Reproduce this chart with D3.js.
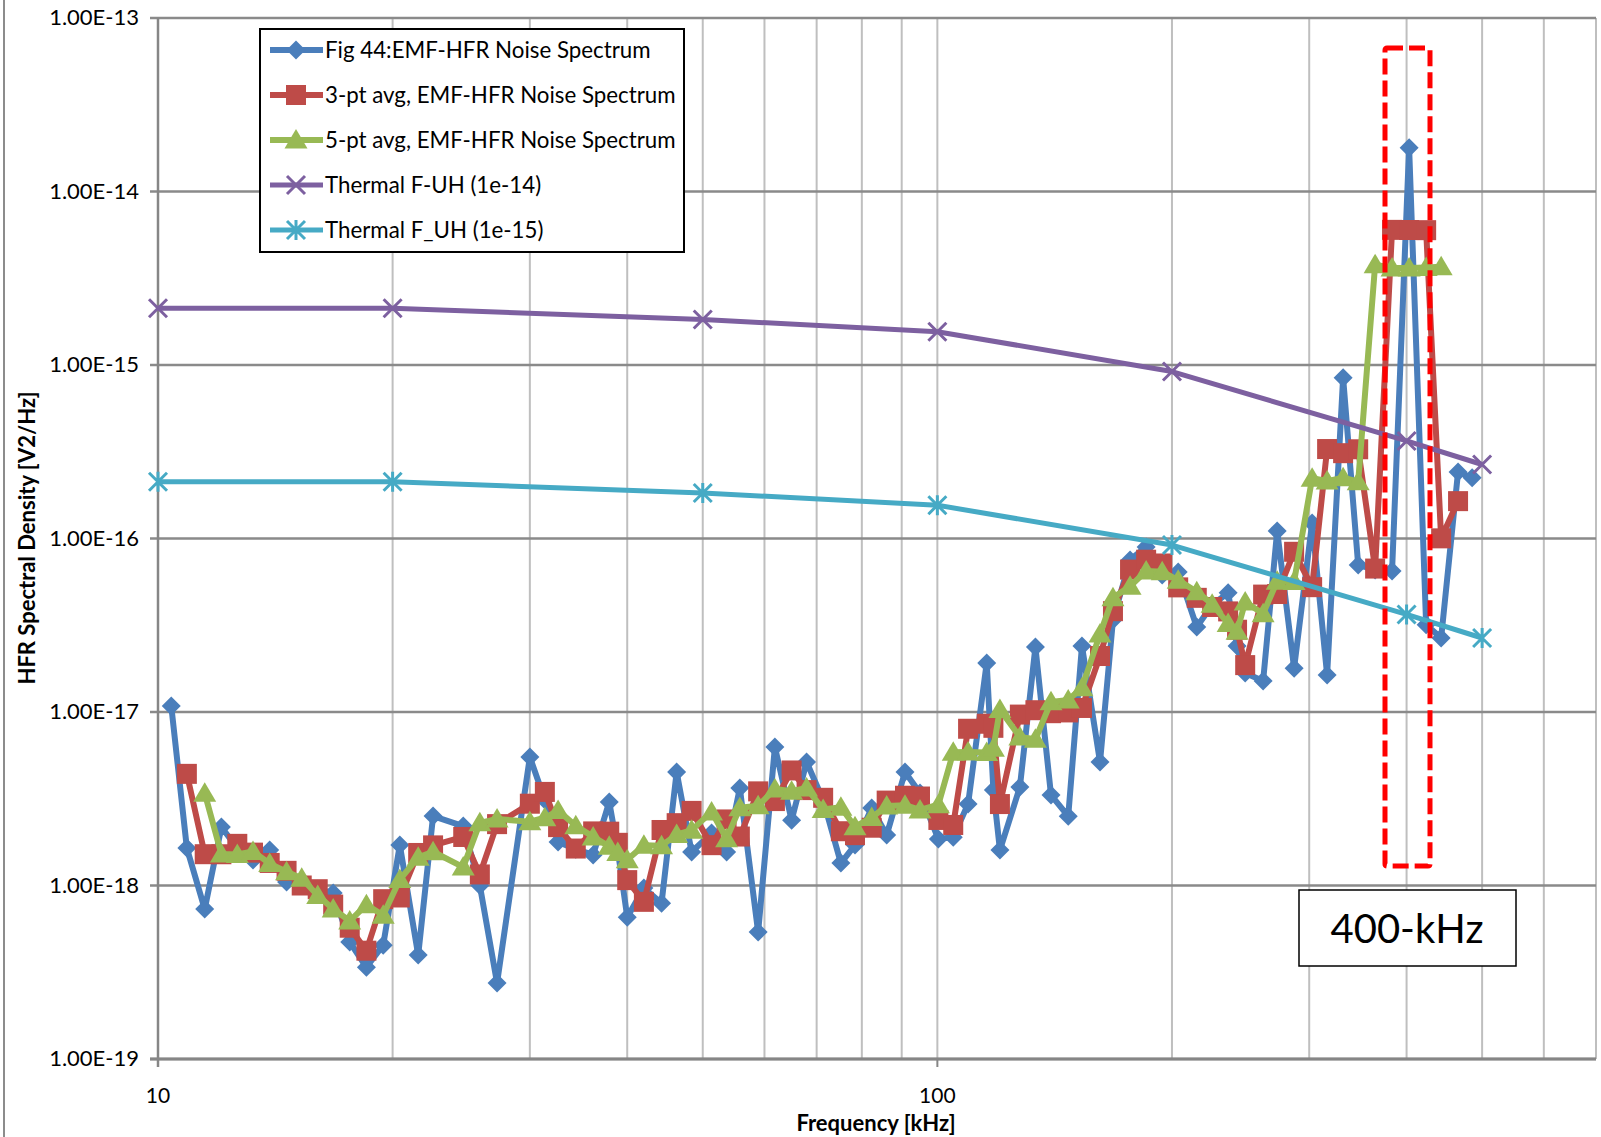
<!DOCTYPE html>
<html>
<head>
<meta charset="utf-8">
<script src="https://cdn.jsdelivr.net/npm/d3@7"></script>
<style>
  body { margin: 0; background: #fff; }
  text { font-family: Lato, "Open Sans", sans-serif; }
</style>
</head>
<body>
<div id="chart"></div>
<script>
// frequencies [kHz] of the measured spectrum points
const freq = [10.40, 10.89, 11.48, 12.06, 12.64, 13.24, 13.91, 14.62, 15.29, 16.03,
  16.78, 17.62, 18.51, 19.45, 20.43, 21.57, 22.54, 24.64, 25.88, 27.23,
  30.00, 31.36, 32.61, 34.36, 36.17, 37.93, 38.9, 40.0, 42.02, 44.27,
  46.29, 48.38, 51.32, 53.65, 55.79, 58.89, 61.88, 65.01, 67.95, 71.36,
  75.20, 78.40, 82.37, 86.09, 90.88, 95.0, 100.3, 104.8, 109.5, 115.7,
  118.0, 120.3, 127.6, 133.6, 139.9, 147.2, 153.3, 161.7, 168.0, 176.7,
  185.3, 194.3, 203.7, 215.2, 225.2, 236.1, 242.4, 248.3, 261.8, 272.9,
  286.9, 302.6, 316.3, 331.6, 346.7, 364.5, 383.2, 403.0, 423.8, 443.0,
  465.7, 485.5];

// Fig 44: EMF-HFR noise spectrum [V2/Hz]
const noise = [1.083e-17, 1.643e-18, 7.31e-19, 2.172e-18, 1.64e-18, 1.401e-18, 1.60e-18, 1.046e-18, 1.00e-18, 9.53e-19,
  9.04e-19, 4.72e-19, 3.38e-19, 4.53e-19, 1.71e-18, 3.97e-19, 2.513e-18, 2.20e-18, 1.00e-18, 2.74e-19,
  5.50e-18, 3.11e-18, 1.78e-18, 1.62e-18, 1.50e-18, 3.03e-18, 1.60e-18, 6.57e-19, 9.66e-19, 7.91e-19,
  4.51e-18, 1.56e-18, 2.005e-18, 1.56e-18, 3.645e-18, 5.39e-19, 6.28e-18, 2.38e-18, 5.15e-18, 3.11e-18,
  1.346e-18, 1.71e-18, 2.796e-18, 1.953e-18, 4.51e-18, 3.41e-18, 1.852e-18, 1.90e-18, 2.947e-18, 1.917e-17,
  3.55e-18, 1.60e-18, 3.69e-18, 2.37e-17, 3.32e-18, 2.51e-18, 2.40e-17, 5.15e-18, 3.39e-17, 7.53e-17,
  8.94e-17, 6.17e-17, 6.42e-17, 3.09e-17, 4.14e-17, 4.86e-17, 2.40e-17, 1.68e-17, 1.51e-17, 1.106e-16,
  1.79e-17, 1.23e-16, 1.635e-17, 8.44e-16, 7.04e-17, 6.59e-17, 6.50e-17, 1.79e-14, 3.18e-17, 2.67e-17,
  2.42e-16, 2.24e-16];

// 3-pt avg (plotted from 2nd to 2nd-last frequency)
const avg3 = [4.40e-18, 1.515e-18, 1.514e-18, 1.738e-18, 1.547e-18, 1.349e-18, 1.215e-18, 1.00e-18, 9.52e-19, 7.76e-19,
  5.71e-19, 4.21e-19, 8.34e-19, 8.53e-19, 1.54e-18, 1.703e-18, 1.904e-18, 1.158e-18, 2.258e-18, 2.961e-18,
  3.463e-18, 2.17e-18, 1.633e-18, 2.05e-18, 2.043e-18, 1.762e-18, 1.074e-18, 8.05e-19, 2.089e-18, 2.287e-18,
  2.692e-18, 1.708e-18, 2.403e-18, 1.915e-18, 3.488e-18, 3.066e-18, 4.603e-18, 3.547e-18, 3.202e-18, 2.055e-18,
  1.951e-18, 2.153e-18, 3.086e-18, 3.291e-18, 3.257e-18, 2.387e-18, 2.233e-18, 8.006e-18, 8.556e-18, 8.107e-18,
  2.947e-18, 9.663e-18, 1.024e-17, 9.843e-18, 9.943e-18, 1.055e-17, 2.102e-17, 3.812e-17, 6.62e-17, 7.547e-17,
  7.177e-17, 5.227e-17, 4.55e-17, 4.03e-17, 3.80e-17, 2.98e-17, 1.863e-17, 4.75e-17, 4.787e-17, 8.383e-17,
  5.242e-17, 3.278e-16, 3.103e-16, 3.268e-16, 6.71e-17, 6.01e-15, 5.999e-15, 5.986e-15, 1.002e-16, 1.642e-16];

// 5-pt avg (plotted from 3rd to 3rd-last frequency)
const avg5 = [3.403e-18, 1.517e-18, 1.509e-18, 1.572e-18, 1.337e-18, 1.20e-18, 1.101e-18, 8.75e-19, 7.33e-19, 6.24e-19,
  7.75e-19, 6.74e-19, 1.082e-18, 1.455e-18, 1.564e-18, 1.277e-18, 2.297e-18, 2.417e-18, 2.333e-18, 2.457e-18,
  2.702e-18, 2.208e-18, 1.906e-18, 1.681e-18, 1.551e-18, 1.409e-18, 1.705e-18, 1.697e-18, 1.966e-18, 2.085e-18,
  2.656e-18, 1.862e-18, 2.806e-18, 2.881e-18, 3.599e-18, 3.492e-18, 3.653e-18, 2.739e-18, 2.822e-18, 2.183e-18,
  2.463e-18, 2.876e-18, 2.904e-18, 2.725e-18, 2.924e-18, 5.856e-18, 5.884e-18, 5.833e-18, 6.191e-18, 1.034e-17,
  7.172e-18, 6.964e-18, 1.144e-17, 1.174e-17, 1.378e-17, 2.817e-17, 4.555e-17, 5.309e-17, 6.49e-17, 6.43e-17,
  5.752e-17, 4.936e-17, 4.182e-17, 3.234e-17, 2.918e-17, 4.302e-17, 3.688e-17, 5.668e-17, 5.659e-17, 2.224e-16,
  2.143e-16, 2.239e-16, 2.123e-16, 3.789e-15, 3.627e-15, 3.618e-15, 3.653e-15, 3.685e-15];

// thermal noise curves
const thermFreq = [10, 20, 50, 100, 200, 400, 500];
const thermHigh = [2.125e-15, 2.125e-15, 1.83e-15, 1.556e-15, 9.17e-16, 3.65e-16, 2.67e-16];
const thermLow  = [2.125e-16, 2.125e-16, 1.83e-16, 1.556e-16, 9.17e-17, 3.65e-17, 2.67e-17];

// axis ticks
const xGrid = [10, 20, 30, 40, 50, 60, 70, 80, 90, 100, 200, 300, 400, 500, 600, 700];
const xLabels = [10, 100];
const yTicks = [1e-19, 1e-18, 1e-17, 1e-16, 1e-15, 1e-14, 1e-13];

const seriesNames = ["Fig 44:EMF-HFR Noise Spectrum", "3-pt avg, EMF-HFR Noise Spectrum",
  "5-pt avg, EMF-HFR Noise Spectrum", "Thermal F-UH (1e-14)", "Thermal F_UH (1e-15)"];

const W = 1601, H = 1137;
const svg = d3.select("#chart").append("svg")
    .attr("width", W).attr("height", H)
    .style("background", "#fff");

const x = d3.scaleLog().domain([10, 700]).range([158, 1596]);
const y = d3.scaleLog().domain([1e-19, 1e-13]).range([1059, 18]);

// outer chart border (left edge visible)
svg.append("line").attr("x1", 4).attr("x2", 4).attr("y1", 0).attr("y2", H)
    .attr("stroke", "#8c8c8c").attr("stroke-width", 2);

// vertical grid
svg.append("g").selectAll("line").data(xGrid).join("line")
    .attr("x1", d => x(d)).attr("x2", d => x(d))
    .attr("y1", y(1e-13)).attr("y2", y(1e-19))
    .attr("stroke", "#bfbfbf").attr("stroke-width", 2);

// horizontal grid (with small tick stubs on the left)
svg.append("g").selectAll("line").data(yTicks).join("line")
    .attr("x1", x(10) - 8).attr("x2", x(700))
    .attr("y1", d => y(d)).attr("y2", d => y(d))
    .attr("stroke", "#8a8a8a").attr("stroke-width", 2.5);

// axis lines
svg.append("line").attr("x1", x(10)).attr("x2", x(10)).attr("y1", y(1e-13)).attr("y2", y(1e-19) + 8)
    .attr("stroke", "#868686").attr("stroke-width", 2.5);
svg.append("line").attr("x1", x(10) - 8).attr("x2", x(700)).attr("y1", y(1e-19)).attr("y2", y(1e-19))
    .attr("stroke", "#868686").attr("stroke-width", 3);
svg.append("line").attr("x1", x(100)).attr("x2", x(100)).attr("y1", y(1e-19)).attr("y2", y(1e-19) + 8)
    .attr("stroke", "#868686").attr("stroke-width", 2);

// tick labels
svg.append("g").selectAll("text").data(yTicks).join("text")
    .attr("x", 139).attr("y", d => y(d) + 7)
    .attr("text-anchor", "end").style("font-size", "22px").attr("fill", "#000")
    .text(d => d.toExponential(2).toUpperCase());
svg.append("g").selectAll("text").data(xLabels).join("text")
    .attr("x", d => x(d)).attr("y", 1103)
    .attr("text-anchor", "middle").style("font-size", "21px")
    .text(d => d);

// axis titles
svg.append("text").attr("x", 876).attr("y", 1131).attr("text-anchor", "middle")
    .style("font-size", "22px").style("font-weight", "bold").text("Frequency [kHz]");
svg.append("text").attr("transform", "translate(35,538) rotate(-90)").attr("text-anchor", "middle")
    .style("font-size", "22px").style("font-weight", "bold").text("HFR Spectral Density [V2/Hz]");

// marker shapes
function marker(kind, g, cx, cy, color) {
  if (kind === "diamond") {
    g.append("path").attr("d", `M${cx},${cy - 9.5}L${cx + 9.5},${cy}L${cx},${cy + 9.5}L${cx - 9.5},${cy}Z`)
      .attr("fill", color);
  } else if (kind === "square") {
    g.append("rect").attr("x", cx - 10).attr("y", cy - 10).attr("width", 20).attr("height", 20)
      .attr("fill", color);
  } else if (kind === "triangle") {
    g.append("path").attr("d", `M${cx},${cy - 11}L${cx + 11.5},${cy + 8.5}L${cx - 11.5},${cy + 8.5}Z`)
      .attr("fill", color);
  } else if (kind === "x" || kind === "star") {
    let d = `M${cx - 9},${cy - 9}L${cx + 9},${cy + 9}M${cx - 9},${cy + 9}L${cx + 9},${cy - 9}`;
    if (kind === "star") d += `M${cx},${cy - 10}L${cx},${cy + 10}`;
    g.append("path").attr("d", d).attr("stroke", color).attr("stroke-width", 3).attr("fill", "none");
  }
}

const series = [
  {name: seriesNames[0], xs: freq, ys: noise, color: "#4a7ebb", kind: "diamond", w: 6},
  {name: seriesNames[1], xs: freq.slice(1, 81), ys: avg3, color: "#be4b48", kind: "square", w: 6},
  {name: seriesNames[2], xs: freq.slice(2, 80), ys: avg5, color: "#98b954", kind: "triangle", w: 6},
  {name: seriesNames[3], xs: thermFreq, ys: thermHigh, color: "#7d60a0", kind: "x", w: 5},
  {name: seriesNames[4], xs: thermFreq, ys: thermLow, color: "#46aac5", kind: "star", w: 5}
];

const line = d3.line().x(d => x(d[0])).y(d => y(d[1]));

series.forEach(s => {
  const pts = s.xs.map((f, i) => [f, s.ys[i]]);
  const g = svg.append("g");
  g.append("path").datum(pts).attr("d", line)
    .attr("fill", "none").attr("stroke", s.color).attr("stroke-width", s.w)
    .attr("stroke-linejoin", "round");
  pts.forEach(p => marker(s.kind, g, x(p[0]), y(p[1]), s.color));
});

// legend
const lg = svg.append("g");
lg.append("rect").attr("x", 260).attr("y", 29).attr("width", 424).attr("height", 223)
    .attr("fill", "#fff").attr("stroke", "#000").attr("stroke-width", 2);
series.forEach((s, i) => {
  const ly = 50 + i * 45;
  lg.append("line").attr("x1", 270).attr("x2", 323).attr("y1", ly).attr("y2", ly)
    .attr("stroke", s.color).attr("stroke-width", s.w);
  marker(s.kind, lg, 296, ly, s.color);
  lg.append("text").attr("x", 325).attr("y", ly + 7.5).style("font-size", "22.3px").text(s.name);
});

// highlight around the 400 kHz peak
svg.append("rect").attr("x", 1385).attr("y", 48).attr("width", 45).attr("height", 818)
    .attr("rx", 2).attr("fill", "none").attr("stroke", "#ff0000").attr("stroke-width", 5)
    .attr("stroke-dasharray", "16,6");

svg.append("rect").attr("x", 1299).attr("y", 890).attr("width", 217).attr("height", 76)
    .attr("fill", "#fff").attr("stroke", "#000").attr("stroke-width", 1.5);
svg.append("text").attr("x", 1407).attr("y", 943).attr("text-anchor", "middle")
    .style("font-size", "40px").text("400-kHz");
</script>
</body>
</html>
